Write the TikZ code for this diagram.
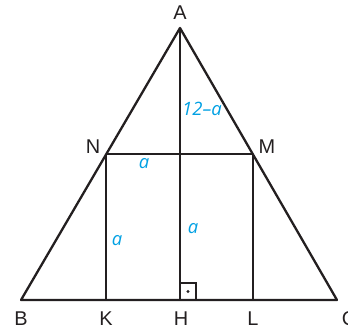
\documentclass[tikz,border=0pt]{standalone}
\usepackage{fontspec}
\setmainfont{Liberation Sans}
\newfontfamily\lblfont{Open Sans}
\definecolor{ink}{RGB}{35,31,32}
\definecolor{lblblue}{RGB}{0,160,227}
\begin{document}
\begin{tikzpicture}[x=1bp,y=-1bp,
  edge/.style={draw=ink,line width=2.3bp,line join=round},
  thin/.style={draw=ink,line width=1.4bp},
  ptlabel/.style={font=\fontsize{20}{20}\selectfont,text=ink,inner sep=0pt},
  seglabel/.style={font=\lblfont\itshape\fontsize{18.5}{18.5}\selectfont,text=lblblue,inner sep=0pt}]
\useasboundingbox (0,0) rectangle (348,333);
\coordinate (A) at (180,28);
\coordinate (B) at (21,300);
\coordinate (C) at (337,300);
\coordinate (N) at (106,154);
\coordinate (M) at (253,154);
\coordinate (K) at (106,300);
\coordinate (L) at (253,300);
\coordinate (H) at (180,300);
\coordinate (R1) at (180,283);
\coordinate (R2) at (196,283);
\coordinate (R3) at (196,300);
\coordinate (Dt) at (188,291.5);
\draw[edge] (A) -- (B) -- (C) -- cycle;
\draw[edge] (N) -- (M);
\draw[edge] (N) -- (K);
\draw[edge] (M) -- (L);
\draw[edge] (A) -- (H);
\draw[thin] (R1) -- (R2) -- (R3);
\fill[ink] (Dt) circle (1.6bp);
\node[ptlabel] (lA) at (180,12.5) {A};
\node[ptlabel] (lB) at (21,319) {B};
\node[ptlabel] (lK) at (106,319) {K};
\node[ptlabel] (lH) at (181,319) {H};
\node[ptlabel] (lL) at (253,319) {L};
\node[ptlabel] (lC) at (349,319) {C};
\node[ptlabel] (lN) at (93,147) {N};
\node[ptlabel] (lM) at (267,147) {M};
\node[seglabel] (s1) at (202,109) {12–a};
\node[seglabel] (s2) at (144,164) {a};
\node[seglabel] (s3) at (117,241) {a};
\node[seglabel] (s4) at (193,229) {a};
\end{tikzpicture}
\end{document}
